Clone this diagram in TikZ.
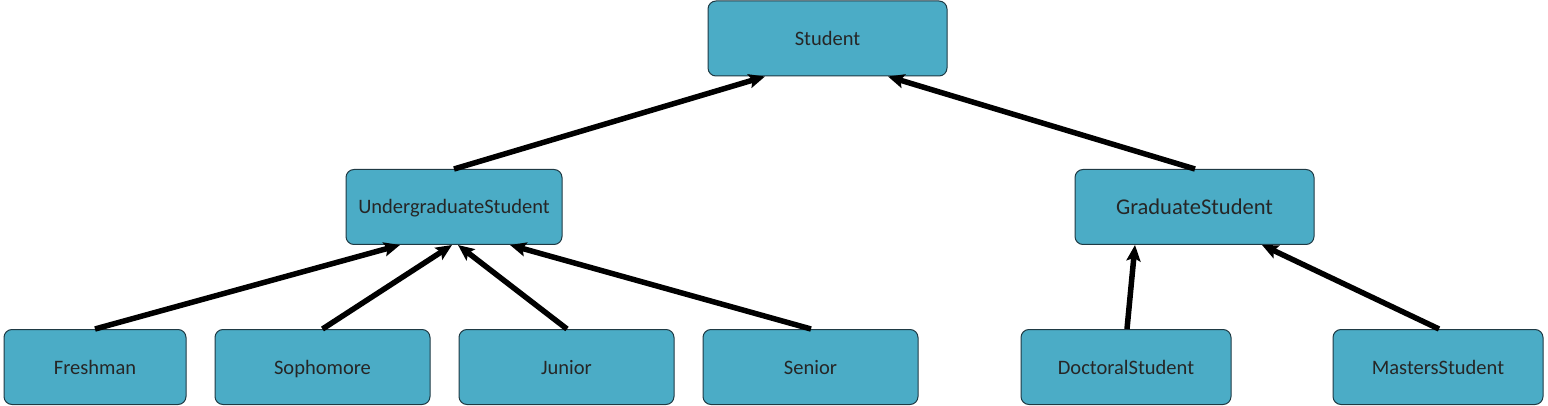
\documentclass[tikz,border=0pt]{standalone}
\usepackage{fontspec}
\setmainfont{Carlito}
\usetikzlibrary{arrows.meta}
\definecolor{boxfill}{HTML}{4BACC6}
\definecolor{boxline}{HTML}{1F3A44}
\begin{document}
\begin{tikzpicture}[x=1pt,y=-1pt,
  cls/.style={draw=boxline, line width=1pt, fill=boxfill, rounded corners=8pt, minimum height=75pt, inner sep=0pt, text height=14pt, text depth=0pt, font=\fontsize{20.5}{24}\selectfont, text=black!85},
  inherit/.style={line width=5.5pt, -{Stealth[length=16pt,width=14pt,inset=3pt]}}]
\useasboundingbox (0,0) rectangle (1548,406);
\node[cls, minimum width=239pt] (student) at (827.5,38.5) {Student};
\node[cls, minimum width=216pt] (ug) at (454,207) {UndergraduateStudent};
\node[cls, minimum width=239pt, font=\fontsize{22.5}{26}\selectfont, text height=15pt] (grad) at (1194.5,207) {GraduateStudent};
\node[cls, minimum width=182pt] (fresh) at (95,367) {Freshman};
\node[cls, minimum width=215pt] (soph) at (322.5,367) {Sophomore};
\node[cls, minimum width=215pt] (junior) at (566.5,367) {Junior};
\node[cls, minimum width=215pt] (senior) at (810.5,367) {Senior};
\node[cls, minimum width=210pt] (doc) at (1126,367) {DoctoralStudent};
\node[cls, minimum width=210pt] (mast) at (1438,367) {MastersStudent};
\draw[inherit] ([xshift=0pt]ug.north) -- ([xshift=-62.5pt]student.south);
\draw[inherit] ([xshift=0.5pt]grad.north) -- ([xshift=60.5pt]student.south);
\draw[inherit] ([xshift=0pt]fresh.north) -- ([xshift=-54pt]ug.south);
\draw[inherit] ([xshift=0pt]soph.north) -- ([xshift=-2pt]ug.south);
\draw[inherit] ([xshift=0.5pt]junior.north) -- ([xshift=4pt]ug.south);
\draw[inherit] ([xshift=0.5pt]senior.north) -- ([xshift=56pt]ug.south);
\draw[inherit] ([xshift=1pt]doc.north) -- ([xshift=-59.5pt]grad.south);
\draw[inherit] ([xshift=1pt]mast.north) -- ([xshift=67.5pt]grad.south);
\end{tikzpicture}
\end{document}
